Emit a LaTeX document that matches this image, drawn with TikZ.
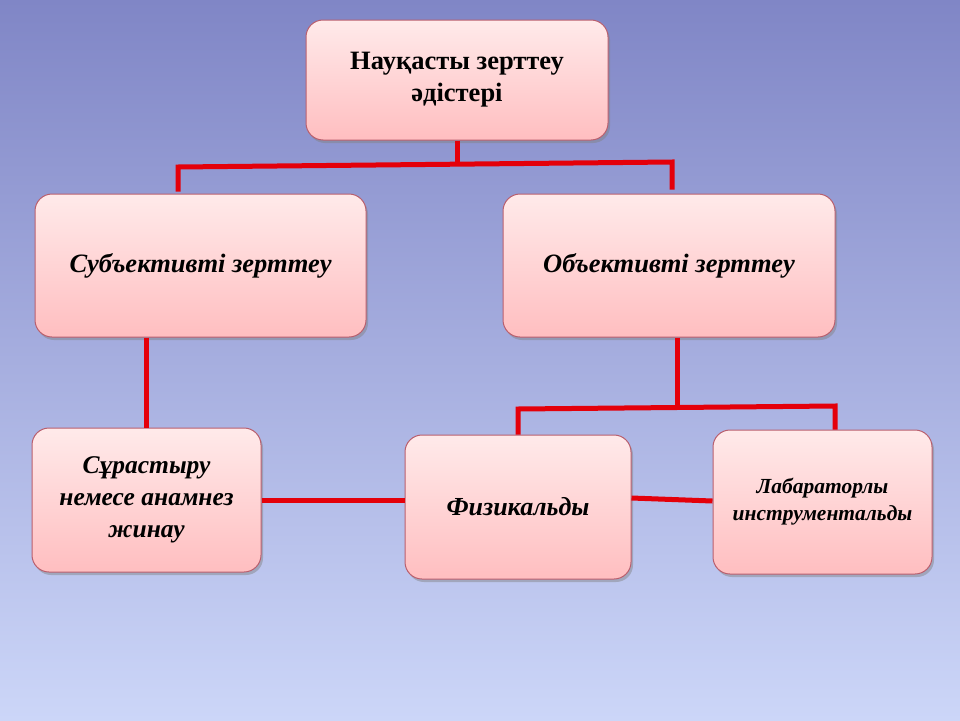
\documentclass[tikz,border=0pt]{standalone}
\usepackage{fontspec}
\setmainfont{Liberation Serif}
\usetikzlibrary{shadows}

\definecolor{bgtop}{RGB}{128,134,198}
\definecolor{bgbot}{RGB}{204,214,248}
\definecolor{boxtop}{RGB}{255,234,234}
\definecolor{boxbot}{RGB}{255,190,192}
\definecolor{boxline}{RGB}{185,95,110}
\definecolor{linkred}{RGB}{228,0,10}

\tikzset{
	box/.style={draw=boxline, line width=1pt, rounded corners=17pt,
		top color=boxtop, bottom color=boxbot, align=center,
		inner sep=0pt, drop shadow={shadow xshift=2pt, shadow yshift=-3pt, opacity=0.45}},
	link/.style={draw=linkred, line width=5pt}
}

\begin{document}
\begin{tikzpicture}[x=1pt, y=-1pt]
	
	% background
	\shade[top color=bgtop, bottom color=bgbot] (0,0) rectangle (960,720);
	\useasboundingbox (0,0) rectangle (960,720);
	
	% boxes
	\node[box, minimum width=302pt, minimum height=120pt, font=\fontsize{26.5}{32}\selectfont\bfseries] (top) at (457,80) {Науқасты зерттеу\\әдістері};
	\node[box, minimum width=331pt, minimum height=143pt, font=\fontsize{26.5}{32}\selectfont\bfseries\itshape] (subj) at (200.5,265.5) {Субъективті зерттеу};
	\node[box, minimum width=332pt, minimum height=143pt, font=\fontsize{26.5}{32}\selectfont\bfseries\itshape] (obj) at (669,265.5) {Объективті зерттеу};
	\node[box, minimum width=229pt, minimum height=144pt, font=\fontsize{25.5}{32}\selectfont\bfseries\itshape] (sur) at (146.5,500) {Сұрастыру\\немесе анамнез\\жинау};
	\node[box, minimum width=226pt, minimum height=144pt, font=\fontsize{26}{32}\selectfont\bfseries\itshape] (fiz) at (518,507) {Физикальды};
	\node[box, minimum width=219pt, minimum height=144pt, font=\fontsize{21.5}{27}\selectfont\bfseries\itshape] (lab) at (822.5,502) {Лабараторлы\\инструментальды};
	
	% connectors
	\coordinate (b1) at (178,167);
	\coordinate (b2) at (672,162);
	\draw[link] (top.south) -- (top.south |- 0,164);
	\draw[link] (subj.north -| b1) ++(0,-2) -- (b1) -- (b2) -- ([yshift=4pt]obj.north -| b2);
	\draw[link] (sur.north |- subj.south) -- (sur.north);
	
	\coordinate (c0) at (677,407);
	\coordinate (c1) at (518,409);
	\coordinate (c2) at (835,406);
	\draw[link] (c0 |- obj.south) -- (c0);
	\draw[link] (fiz.north -| c1) -- (c1) -- (c2) -- (lab.north -| c2);
	\draw[link] (sur.east) -- (sur.east -| fiz.west);
	\draw[link] ([yshift=9pt]fiz.east) -- ([yshift=1pt]lab.west);
	
\end{tikzpicture}
\end{document}
